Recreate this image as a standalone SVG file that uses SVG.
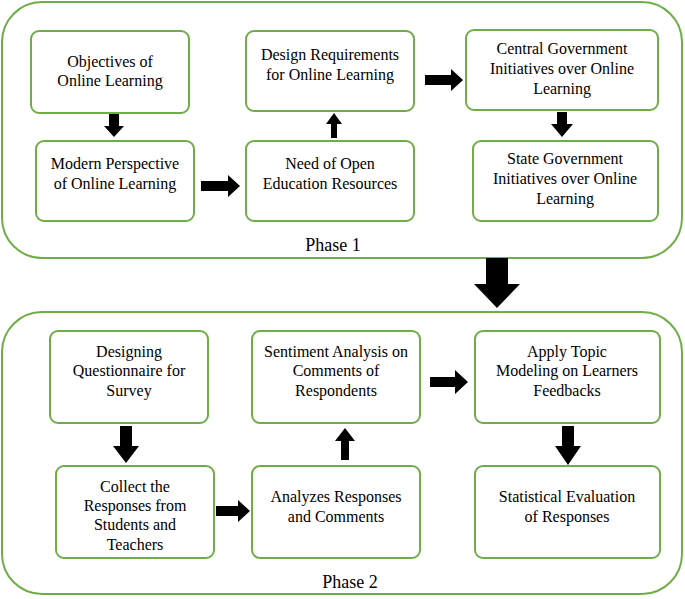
<svg xmlns="http://www.w3.org/2000/svg" width="685" height="599" viewBox="0 0 685 599">
<style>
.o{fill:#fff;stroke:#70ad47;stroke-width:2}
.n{fill:#fff;stroke:#70ad47;stroke-width:2}
text{font-family:"Liberation Serif","Times New Roman",serif;font-size:16px;fill:#000;text-anchor:middle}
.p{font-size:18px}
.a{fill:#000}
</style>
<rect width="685" height="599" fill="#fff"/>
<g id="phase1"><rect class="o" x="2" y="2" width="680" height="256" rx="40"/><text class="p" x="333" y="251">Phase 1</text></g>
<g id="phase2"><rect class="o" x="2" y="312" width="680" height="282" rx="40"/><text class="p" x="350" y="588">Phase 2</text></g>
<g id="n1"><rect class="n" x="31" y="31" width="158" height="82" rx="8"/><text x="110" y="67">Objectives of</text><text x="110" y="86">Online Learning</text></g>
<g id="n2"><rect class="n" x="36" y="141" width="158" height="80" rx="8"/><text x="115" y="169">Modern Perspective</text><text x="115" y="189">of Online Learning</text></g>
<g id="n3"><rect class="n" x="246" y="31" width="168" height="80" rx="8"/><text x="330" y="60">Design Requirements</text><text x="330" y="80">for Online Learning</text></g>
<g id="n4"><rect class="n" x="246" y="141" width="168" height="80" rx="8"/><text x="330" y="169">Need of Open</text><text x="330" y="189">Education Resources</text></g>
<g id="n5"><rect class="n" x="466" y="30" width="192" height="80" rx="8"/><text x="562" y="54">Central Government</text><text x="562" y="74">Initiatives over Online</text><text x="562" y="94">Learning</text></g>
<g id="n6"><rect class="n" x="473" y="141" width="185" height="80" rx="8"/><text x="565" y="164">State Government</text><text x="565" y="184">Initiatives over Online</text><text x="565" y="204">Learning</text></g>
<g id="m1"><rect class="n" x="50" y="331" width="158" height="92" rx="8"/><text x="129" y="357">Designing</text><text x="129" y="376">Questionnaire for</text><text x="129" y="396">Survey</text></g>
<g id="m2"><rect class="n" x="56" y="466" width="158" height="92" rx="8"/><text x="135" y="492">Collect the</text><text x="135" y="511">Responses from</text><text x="135" y="530">Students and</text><text x="135" y="550">Teachers</text></g>
<g id="m3"><rect class="n" x="252" y="331" width="168" height="92" rx="8"/><text x="336" y="357">Sentiment Analysis on</text><text x="336" y="376">Comments of</text><text x="336" y="396">Respondents</text></g>
<g id="m4"><rect class="n" x="252" y="466" width="168" height="92" rx="8"/><text x="336" y="502">Analyzes Responses</text><text x="336" y="522">and Comments</text></g>
<g id="m5"><rect class="n" x="475" y="331" width="185" height="92" rx="8"/><text x="567" y="357">Apply Topic</text><text x="567" y="376">Modeling on Learners</text><text x="567" y="396">Feedbacks</text></g>
<g id="m6"><rect class="n" x="475" y="466" width="185" height="92" rx="8"/><text x="567" y="502">Statistical Evaluation</text><text x="567" y="522">of Responses</text></g>
<g id="connectors" class="a">
<polygon points="109,114 119,114 119,126 124,126 114,137 104,126 109,126"/>
<polygon points="201,181 228,181 228,175 240,186 228,197 228,191 201,191"/>
<polygon points="331,138 337,138 337,124 342,124 334,113 326,124 331,124"/>
<polygon points="425,75 451,75 451,69 463,80 451,91 451,85 425,85"/>
<polygon points="557,112 567,112 567,124 573,124 562,137 551,124 557,124"/>
<polygon points="486,258 508,258 508,284 520,284 497,308 474,284 486,284"/>
<polygon points="120,426 132,426 132,446 139,446 126,463 113,446 120,446"/>
<polygon points="216,506 238,506 238,500 250,511 238,522 238,516 216,516"/>
<polygon points="341,460 349,460 349,441 355,441 345,428 335,441 341,441"/>
<polygon points="430,377 455,377 455,370 468,382 455,394 455,387 430,387"/>
<polygon points="562,426 574,426 574,446 581,446 568,465 555,446 562,446"/>
</g>
</svg>
